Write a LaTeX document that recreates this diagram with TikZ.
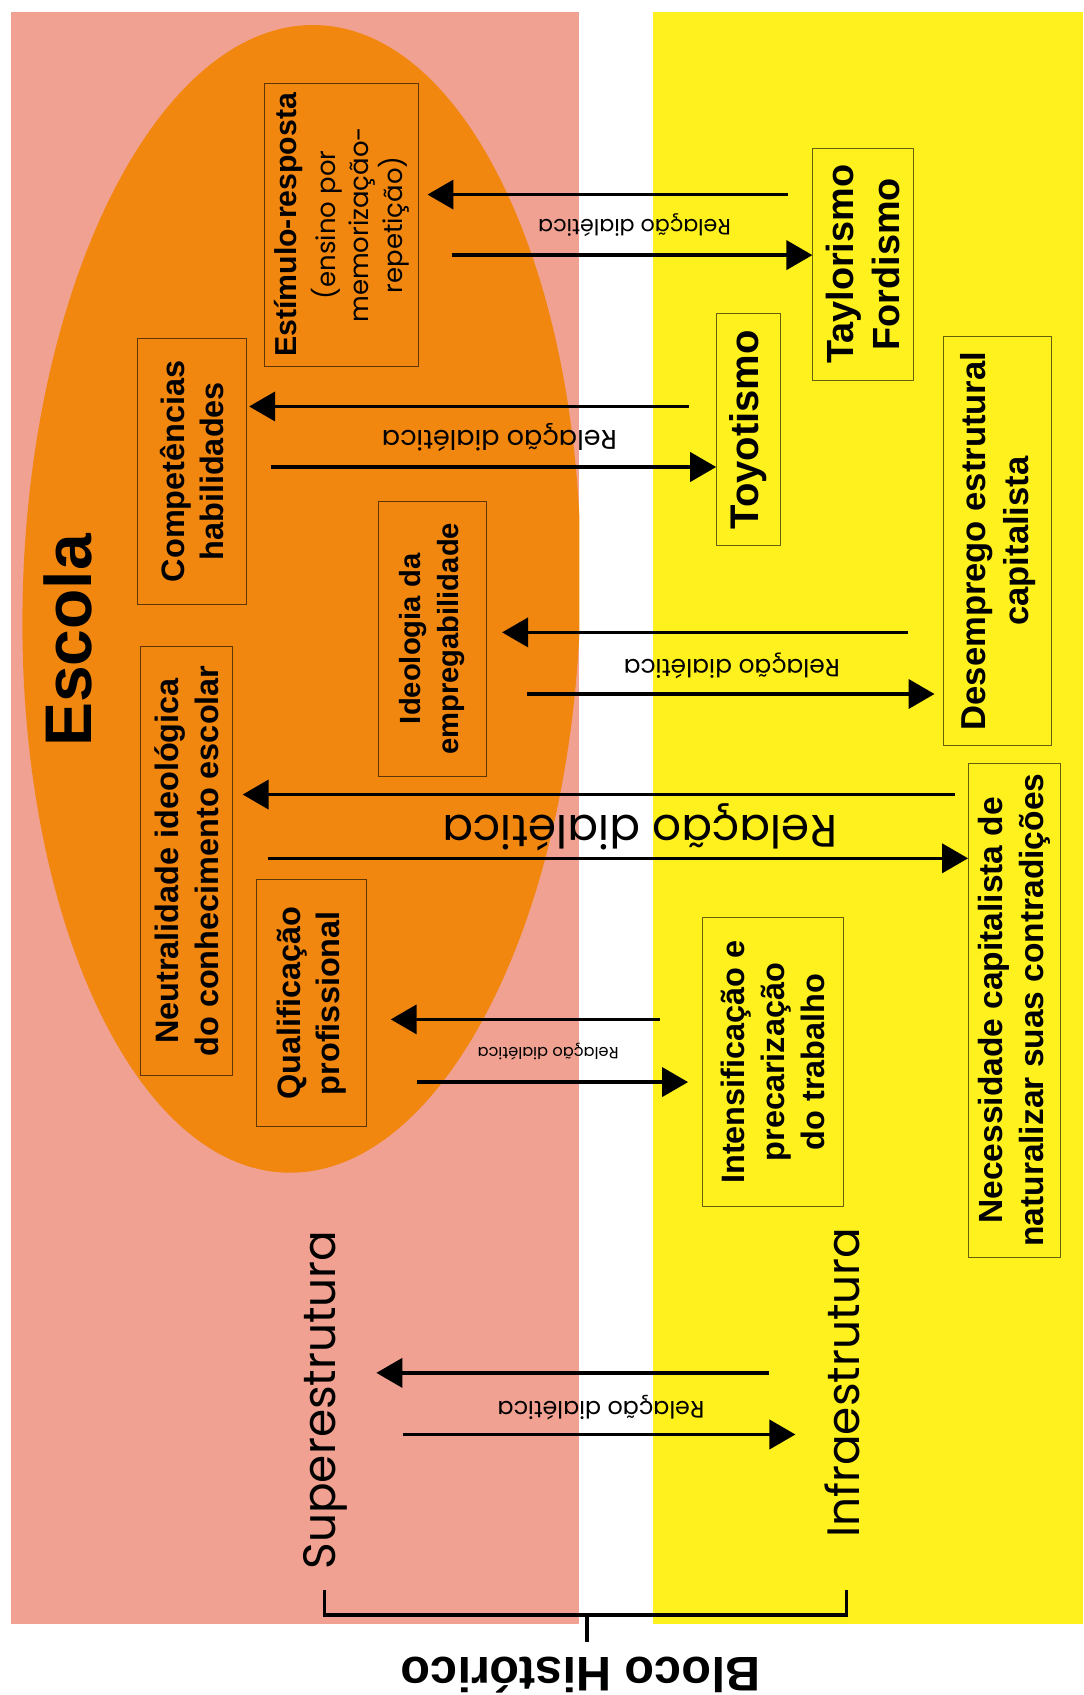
\documentclass[tikz,border=0pt]{standalone}
\usepackage{fontspec}
\setmainfont{Liberation Sans}
\newfontfamily\gothic{Poppins}
\usetikzlibrary{arrows.meta}
\definecolor{superpink}{RGB}{240,161,145}
\definecolor{infrayellow}{RGB}{255,241,30}
\definecolor{escolaorange}{RGB}{241,135,15}

\begin{document}
\begin{tikzpicture}[x=1pt,y=-1pt,
  box/.style={draw=black, draw opacity=0.6, line width=1pt, rotate=90,
    inner sep=0pt, align=center},
  arr/.style={line width=3pt, -{Triangle[length=24pt,width=27pt]}},
  rel/.style={rotate=180, inner sep=0pt},
  big/.style={rotate=90, inner sep=0pt, text height=30pt, text depth=10pt,
    font=\gothic\fontsize{42}{42}\selectfont},
]
\useasboundingbox (0,0) rectangle (1002,1568);
\fill[white] (0,0) rectangle (1002,1568);

% superstructure and infrastructure bands
\fill[superpink] (10,11) rectangle (536,1502);
\fill[infrayellow] (604,11) rectangle (1002,1502);

% the school
\begin{scope}
  \clip (10,11) rectangle (536,1502);
  \fill[escolaorange, rotate around={-1.5:(279,554)}] (279,554) ellipse [x radius=258, y radius=531];
\end{scope}
\node[rotate=90, anchor=base, inner sep=0pt,
  font=\bfseries\fontsize{61}{61}\selectfont] (escola) at (85,592.5) {Escola};

% school side
\node[box, minimum width=262pt, minimum height=142pt,
  font=\gothic\fontsize{24}{31}\selectfont] (est) at (316,208)
  {{\rmfamily\bfseries\fontsize{28}{31}\selectfont Estímulo-resposta}\\[5pt]
   (ensino por\\ memorização-\\ repetição)};
\node[box, minimum width=246pt, minimum height=101pt,
  font=\bfseries\fontsize{30}{36}\selectfont] (comp) at (177.5,436)
  {Competências\\ habilidades};
\node[box, minimum width=254pt, minimum height=100pt,
  font=\bfseries\fontsize{27}{35}\selectfont] (ideo) at (400,591)
  {Ideologia da\\ empregabilidade};
\node[box, minimum width=397pt, minimum height=85pt,
  font=\bfseries\fontsize{30}{37}\selectfont] (neut) at (172.5,796.5)
  {Neutralidade ideológica\\ do conhecimento escolar};
\node[box, minimum width=228pt, minimum height=102pt,
  font=\bfseries\fontsize{30}{36}\selectfont] (qual) at (288,928)
  {Qualificação\\ profissional};

% production side
\node[box, minimum width=215pt, minimum height=93pt,
  font=\bfseries\fontsize{35}{43}\selectfont] (tay) at (798.5,244.5)
  {Taylorismo\\ Fordismo};
\node[box, minimum width=215pt, minimum height=59pt,
  font=\bfseries\fontsize{37}{40}\selectfont] (toy) at (692.5,397.5)
  {Toyotismo};
\node[box, minimum width=379pt, minimum height=100pt,
  font=\bfseries\fontsize{32}{40}\selectfont] (des) at (923,500.5)
  {Desemprego estrutural\\ capitalista};
\node[box, minimum width=457pt, minimum height=85pt,
  font=\bfseries\fontsize{31}{38}\selectfont] (nec) at (938.5,934.5)
  {Necessidade capitalista de\\ naturalizar suas contradições};
\node[box, minimum width=267pt, minimum height=130pt,
  font=\bfseries\fontsize{30}{37}\selectfont] (int) at (715,982.5)
  {Intensificação e\\ precarização\\ do trabalho};

% base of the historical bloc
\node[big] (sup) at (300,1295) {Superestrutura};
\node[big] (inf) at (785,1279) {Infraestrutura};

% rows of the dialectical arrows
\coordinate (r1l) at (0,180);  \coordinate (r1r) at (0,236);
\coordinate (r2l) at (0,376);  \coordinate (r2r) at (0,432);
\coordinate (r3l) at (0,585);  \coordinate (r3r) at (0,642);
\coordinate (r4l) at (0,735);  \coordinate (r4r) at (0,794);
\coordinate (r5l) at (0,943);  \coordinate (r5r) at (0,1001);
\coordinate (r6l) at (0,1270); \coordinate (r6r) at (0,1327);

\draw[arr, shorten <=23pt, shorten >=8pt] (tay.north |- r1l) -- (est.south |- r1l);
\draw[arr, shorten <=31pt] (est.south |- r1r) -- (tay.north |- r1r);
\draw[arr, shorten <=25pt, shorten >=2pt] (toy.north |- r2l) -- (comp.south |- r2l);
\draw[arr, shorten <=22pt] (comp.south |- r2r) -- (toy.north |- r2r);
\draw[arr, shorten <=33pt, shorten >=14pt] (des.north |- r3l) -- (ideo.south |- r3l);
\draw[arr, shorten <=37pt, shorten >=8pt] (ideo.south |- r3r) -- (des.north |- r3r);
\draw[arr, shorten <=12pt, shorten >=9pt] (nec.north |- r4l) -- (neut.south |- r4l);
\draw[arr, shorten <=32pt] (neut.south |- r4r) -- (nec.north |- r4r);
\draw[arr, shorten <=39pt, shorten >=22pt] (int.north |- r5l) -- (qual.south |- r5l);
\draw[arr, shorten <=46pt, shorten >=13pt] (qual.south |- r5r) -- (int.north |- r5r);
\draw[arr, shorten <=53pt, shorten >=28pt] (inf.north |- r6l) -- (sup.south |- r6l);
\draw[arr, shorten <=53pt, shorten >=29pt] (sup.south |- r6r) -- (inf.north |- r6r);

% labels of the relations
\node[rel, font=\gothic\fontsize{20.5}{20.5}\selectfont] (l1) at (587,208) {Relação dialética};
\node[rel, font=\gothic\fontsize{25}{25}\selectfont] (l2) at (462,405) {Relação dialética};
\node[rel, font=\gothic\fontsize{23}{23}\selectfont] (l3) at (677,616) {Relação dialética};
\node[rel, font=\gothic\fontsize{42}{42}\selectfont] (l4) at (592,765) {Relação dialética};
\node[rel, font=\gothic\fontsize{15}{15}\selectfont] (l5) at (507,973) {Relação dialética};
\node[rel, font=\gothic\fontsize{22}{22}\selectfont] (l6) at (556,1302) {Relação dialética};

% historical bloc bracket
\node[rotate=180, anchor=base, inner sep=0pt,
  font=\bfseries\fontsize{45}{45}\selectfont] (bloco) at (537,1533) {Bloco Histórico};
\coordinate (bmid) at (543,1494);
\draw[line width=3pt] (300,1471) -- (300,1494) -- (783,1494) -- (783,1471);
\draw[line width=3pt] (bmid) -- ++(0,25);
\end{tikzpicture}
\end{document}
